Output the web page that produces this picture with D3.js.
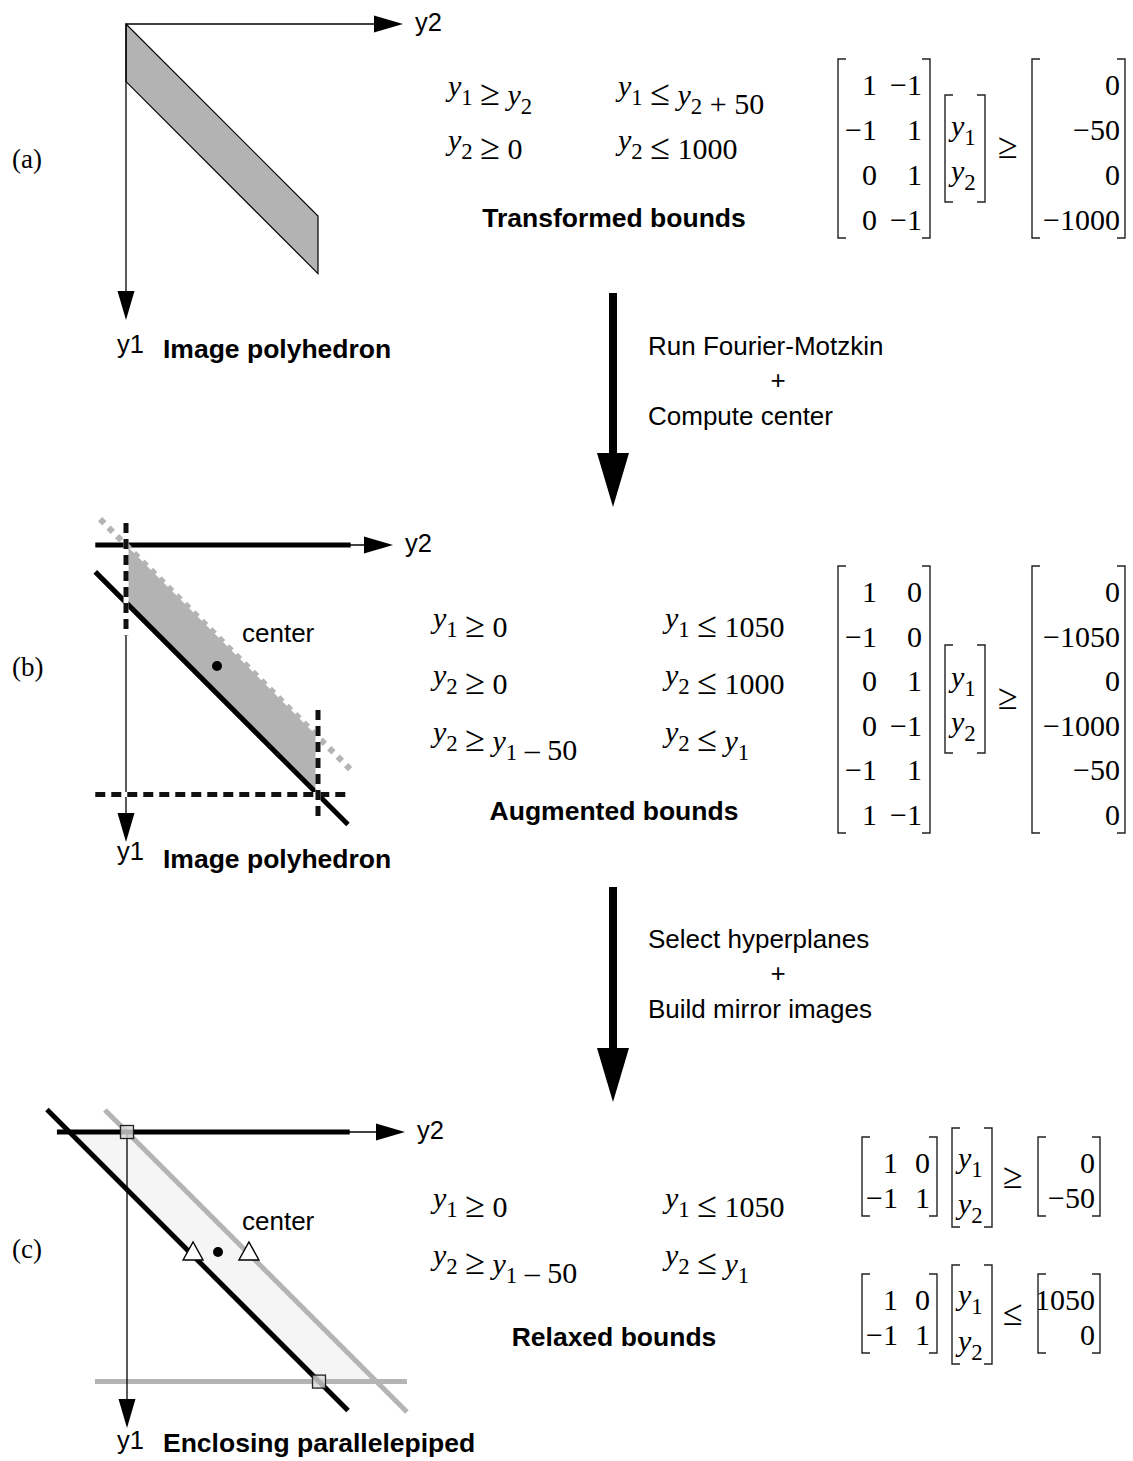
<!DOCTYPE html>
<html lang="en">
<head>
<meta charset="UTF-8">
<title>Image polyhedron relaxation</title>
<script src="https://d3js.org/d3.v7.min.js"></script>
<style>
  body { margin: 0; background: #fff; }
  text { white-space: pre; fill: #000; }
  .sans { font-family: "Liberation Sans", Arial, Helvetica, sans-serif; }
  .serif { font-family: "Liberation Serif", "Times New Roman", serif; }
</style>
</head>
<body>
<svg id="fig" width="1133" height="1461"></svg>
<script>

// ---------- data ----------
var panelLabels = ["(a)", "(b)", "(c)"];
var figureTitles = ["Image polyhedron", "Image polyhedron", "Enclosing parallelepiped"];
var captions = ["Transformed bounds", "Augmented bounds", "Relaxed bounds"];
var stepTexts = [
  ["Run Fourier-Motzkin", "+", "Compute center"],
  ["Select hyperplanes", "+", "Build mirror images"]
];

var boundsA = [["y_1 ≥ y_2", "y_1 ≤ y_2 + 50"],
               ["y_2 ≥ 0",   "y_2 ≤ 1000"]];
var boundsB = [["y_1 ≥ 0",        "y_1 ≤ 1050"],
               ["y_2 ≥ 0",        "y_2 ≤ 1000"],
               ["y_2 ≥ y_1 – 50", "y_2 ≤ y_1"]];
var boundsC = [["y_1 ≥ 0",        "y_1 ≤ 1050"],
               ["y_2 ≥ y_1 – 50", "y_2 ≤ y_1"]];

var matA = [[1, -1], [-1, 1], [0, 1], [0, -1]];
var rhsA = [0, -50, 0, -1000];
var matB = [[1, 0], [-1, 0], [0, 1], [0, -1], [-1, 1], [1, -1]];
var rhsB = [0, -1050, 0, -1000, -50, 0];
var matC = [[1, 0], [-1, 1]];
var rhsCLow = [0, -50];
var rhsCHigh = [1050, 0];

// schematic geometry as [y2, y1]; 1 unit = 1000, the 50-wide band is drawn exaggerated (0.3)
var polyA = [[0, 0], [0, 0.3], [1, 1.3], [1, 1]];
var polyB = [[0, 0], [0, 0.3], [1, 1.3], [1, 1]];
var polyC = [[-0.3, 0], [0, 0], [1.3, 1.3], [1, 1.3]];

var augmentedLines = [
  {kind: "thick", pts: [[-0.16, 0], [1.17, 0]]},          // y1 >= 0
  {kind: "dots",  pts: [[-0.135, -0.135], [1.167, 1.167]]}, // y2 <= y1
  {kind: "thick", pts: [[-0.16, 0.14], [1.156, 1.456]]},  // y2 >= y1 - 50
  {kind: "hatch", pts: [[-0.16, 1.3], [1.155, 1.3]]},     // y1 <= 1050
  {kind: "hatch", pts: [[0, -0.115], [0, 0.47]]},         // y2 >= 0
  {kind: "hatch", pts: [[1, 0.86], [1, 1.44]]}            // y2 <= 1000
];
var relaxedLines = [
  {kind: "gray",  pts: [[-0.167, 1.3], [1.458, 1.3]]},     // y1 <= 1050
  {kind: "gray",  pts: [[-0.115, -0.115], [1.458, 1.458]]}, // y2 <= y1
  {kind: "thick", pts: [[-0.417, -0.117], [1.151, 1.451]]}, // y2 >= y1 - 50
  {kind: "thick", pts: [[-0.365, 0], [1.16, 0]]}          // y1 >= 0
];
var centerB = [0.474, 0.63];
var centerC = [0.474, 0.625];
var mirrorC = [[0.344, 0.625], [0.635, 0.625]];
var cornersC = [[0, 0], [1, 1.3]];

// ---------- drawing ----------
var svg = d3.select("#fig");
var UNIT = 192;
var MATH = 30, SANS = 26;

function fmt(v) { return v < 0 ? "−" + Math.abs(v) : String(v); }

function scalesFor(o) {
  return {
    x: d3.scaleLinear().domain([0, 1]).range([o[0], o[0] + UNIT]),
    y: d3.scaleLinear().domain([0, 1]).range([o[1], o[1] + UNIT])
  };
}

// math text: "y_1" -> italic y with subscript 1, relations a bit larger
function mathText(g, str, x, y, size, anchor) {
  var t = g.append("text").attr("class", "serif")
    .attr("x", x).attr("y", y)
    .attr("font-size", size)
    .attr("text-anchor", anchor || "start");
  var parts = str.split(/(y_\d|[≥≤])/);
  parts.forEach(function(p) {
    if (!p) return;
    var m = p.match(/^y_(\d)$/);
    if (m) {
      t.append("tspan").attr("font-style", "italic").text("y");
      t.append("tspan").attr("font-size", size * 0.76).attr("dy", size * 0.3).text(m[1]);
      t.append("tspan").attr("dy", -size * 0.3).text("");
    } else if (p === "≥" || p === "≤") {
      t.append("tspan").attr("font-size", size * 1.2).text(p);
    } else {
      t.append("tspan").text(p);
    }
  });
  return t;
}

function axes(g, o, y2tip, y1tip) {
  var ah = 29, hw = 8.5;
  g.append("line").attr("x1", o[0]).attr("y1", o[1]).attr("x2", y2tip - ah).attr("y2", o[1])
    .attr("stroke", "#000").attr("stroke-width", 1.3);
  g.append("path").attr("d", "M" + (y2tip - ah) + "," + (o[1] - hw) + "L" + y2tip + "," + o[1] + "L" + (y2tip - ah) + "," + (o[1] + hw) + "Z")
    .attr("fill", "#000");
  g.append("line").attr("x1", o[0]).attr("y1", o[1]).attr("x2", o[0]).attr("y2", y1tip - ah)
    .attr("stroke", "#000").attr("stroke-width", 1.3);
  g.append("path").attr("d", "M" + (o[0] - hw) + "," + (y1tip - ah) + "L" + o[0] + "," + y1tip + "L" + (o[0] + hw) + "," + (y1tip - ah) + "Z")
    .attr("fill", "#000");
  g.append("text").attr("class", "sans").attr("font-size", 25.5)
    .attr("x", y2tip + 12).attr("y", o[1] + 7).text("y2");
}

function figureLabels(g, i, y1base, titleBase) {
  g.append("text").attr("class", "sans").attr("font-size", 25.5)
    .attr("x", 117).attr("y", y1base).text("y1");
  g.append("text").attr("class", "sans").attr("font-size", 26.5).attr("font-weight", "bold")
    .attr("x", 163).attr("y", titleBase).text(figureTitles[i]);
}

function bracket(g, x, top, bottom, dir) {
  g.append("path")
    .attr("d", "M" + (x + dir * 8) + "," + top + "H" + x + "V" + bottom + "H" + (x + dir * 8))
    .attr("fill", "none").attr("stroke", "#222").attr("stroke-width", 1.4);
}

// A * y (rel) b
function system(g, mat, rhs, rel, L) {
  var fs = MATH;
  var last = L.base0 + (mat.length - 1) * L.gap;
  bracket(g, L.aL, L.base0 - 36, last + 8, 1);
  bracket(g, L.aR, L.base0 - 36, last + 8, -1);
  mat.forEach(function(row, r) {
    row.forEach(function(v, c) {
      g.append("text").attr("class", "serif").attr("font-size", fs)
        .attr("text-anchor", "end")
        .attr("x", L.cols[c]).attr("y", L.base0 + r * L.gap).text(fmt(v));
    });
  });
  bracket(g, L.vL, L.vTop, L.vBot, 1);
  bracket(g, L.vL + 40, L.vTop, L.vBot, -1);
  mathText(g, "y_1", L.vL + 6, L.vBase[0], fs);
  mathText(g, "y_2", L.vL + 6, L.vBase[1], fs);
  g.append("text").attr("class", "serif").attr("font-size", fs * 1.2)
    .attr("x", L.relX).attr("y", L.relBase).text(rel);
  bracket(g, L.bL, L.base0 - 36, last + 8, 1);
  bracket(g, L.bR, L.base0 - 36, last + 8, -1);
  rhs.forEach(function(v, r) {
    g.append("text").attr("class", "serif").attr("font-size", fs)
      .attr("text-anchor", "end")
      .attr("x", L.bR - 5).attr("y", L.base0 + r * L.gap).text(fmt(v));
  });
}

function boundsText(g, rows, x0, x1, base0, gap) {
  rows.forEach(function(row, r) {
    mathText(g, row[0], x0, base0 + r * gap, MATH);
    mathText(g, row[1], x1, base0 + r * gap, MATH);
  });
}

function caption(g, i, y) {
  g.append("text").attr("class", "sans").attr("font-size", 26.5).attr("font-weight", "bold")
    .attr("text-anchor", "middle").attr("x", 614).attr("y", y).text(captions[i]);
}

function panelLabel(g, i, y) {
  g.append("text").attr("class", "serif").attr("font-size", 27)
    .attr("x", 12).attr("y", y).text(panelLabels[i]);
}

function drawLines(g, s, lines) {
  var line = d3.line().x(function(d) { return s.x(d[0]); }).y(function(d) { return s.y(d[1]); });
  lines.forEach(function(l) {
    if (l.kind === "thick") {
      g.append("path").attr("d", line(l.pts)).attr("stroke", "#000").attr("stroke-width", 5);
    } else if (l.kind === "gray") {
      g.append("path").attr("d", line(l.pts)).attr("stroke", "#b4b4b4").attr("stroke-width", 5);
    } else if (l.kind === "dots") {
      g.append("path").attr("d", line(l.pts)).attr("stroke", "#b4b4b4").attr("stroke-width", 6)
        .attr("stroke-dasharray", "6 6");
    } else if (l.kind === "hatch") {
      g.append("path").attr("d", line(l.pts)).attr("stroke", "#fff").attr("stroke-width", 5);
      g.append("path").attr("d", line(l.pts)).attr("stroke", "#111").attr("stroke-width", 5)
        .attr("stroke-dasharray", "10 6");
    }
  });
}

function stepArrow(g, i, top, headBase, tip, textBase) {
  var cx = 613, hw = 16;
  g.append("rect").attr("x", cx - 4).attr("y", top).attr("width", 8).attr("height", headBase - top + 1).attr("fill", "#000");
  g.append("path").attr("d", "M" + (cx - hw) + "," + headBase + "L" + cx + "," + tip + "L" + (cx + hw) + "," + headBase + "Z").attr("fill", "#000");
  var t = stepTexts[i];
  g.append("text").attr("class", "sans").attr("font-size", SANS).attr("x", 648).attr("y", textBase).text(t[0]);
  g.append("text").attr("class", "sans").attr("font-size", SANS).attr("text-anchor", "middle").attr("x", 778).attr("y", textBase + 34).text(t[1]);
  g.append("text").attr("class", "sans").attr("font-size", SANS).attr("x", 648).attr("y", textBase + 70).text(t[2]);
}

var polyLine = function(s) {
  return d3.line().x(function(d) { return s.x(d[0]); }).y(function(d) { return s.y(d[1]); }).curve(d3.curveLinearClosed);
};

// ---- panel (a) ----
var ga = svg.append("g");
var oa = [126, 24], sa = scalesFor(oa);
ga.append("path").attr("d", polyLine(sa)(polyA)).attr("fill", "#b3b3b3").attr("stroke", "#000").attr("stroke-width", 1.2);
axes(ga, oa, 403, 320);
figureLabels(ga, 0, 353, 358);
panelLabel(ga, 0, 168);
boundsText(ga, boundsA, 448, 618, 96, 54);
caption(ga, 0, 227);
system(ga, matA, rhsA, "≥", {
  aL: 838, aR: 930, cols: [877, 922], base0: 95, gap: 45,
  vL: 945, vTop: 95, vBot: 202, vBase: [136, 181],
  relX: 998, relBase: 158, bL: 1032, bR: 1125
});

stepArrow(svg.append("g"), 0, 293, 453, 507, 355);

// ---- panel (b) ----
var gb = svg.append("g");
var ob = [126, 545], sb = scalesFor(ob);
gb.append("path").attr("d", polyLine(sb)(polyB)).attr("fill", "#b3b3b3");
axes(gb, ob, 393, 842);
drawLines(gb, sb, augmentedLines);
gb.append("circle").attr("cx", sb.x(centerB[0])).attr("cy", sb.y(centerB[1])).attr("r", 5).attr("fill", "#000");
gb.append("text").attr("class", "sans").attr("font-size", SANS).attr("x", 242).attr("y", 642).text("center");
figureLabels(gb, 1, 860, 868);
panelLabel(gb, 1, 676);
boundsText(gb, boundsB, 433, 665, 628, 57);
caption(gb, 1, 820);
system(gb, matB, rhsB, "≥", {
  aL: 838, aR: 930, cols: [877, 922], base0: 602, gap: 44.6,
  vL: 945, vTop: 645, vBot: 753, vBase: [687, 732],
  relX: 998, relBase: 709, bL: 1032, bR: 1125
});

stepArrow(svg.append("g"), 1, 887, 1048, 1102, 948);

// ---- panel (c) ----
var gc = svg.append("g");
var oc = [127, 1132], sc = scalesFor(oc);
gc.append("path").attr("d", polyLine(sc)(polyC)).attr("fill", "#f5f5f5");
drawLines(gc, sc, relaxedLines.slice(0, 2));
axes(gc, oc, 405, 1428);
drawLines(gc, sc, relaxedLines.slice(2));
gc.selectAll("rect.corner").data(cornersC).enter().append("rect")
  .attr("x", function(d) { return sc.x(d[0]) - 6.5; })
  .attr("y", function(d) { return sc.y(d[1]) - 6.5; })
  .attr("width", 13).attr("height", 13)
  .attr("fill", "#d8d8d8").attr("fill-opacity", 0.8).attr("stroke", "#222").attr("stroke-width", 1.3);
gc.selectAll("path.mirror").data(mirrorC).enter().append("path")
  .attr("d", function(d) {
    var x = sc.x(d[0]), y = sc.y(d[1]);
    return "M" + (x - 10) + "," + (y + 8) + "L" + x + "," + (y - 10) + "L" + (x + 10) + "," + (y + 8) + "Z";
  })
  .attr("fill", "#fff").attr("stroke", "#000").attr("stroke-width", 1.4);
gc.append("circle").attr("cx", sc.x(centerC[0])).attr("cy", sc.y(centerC[1])).attr("r", 5).attr("fill", "#000");
gc.append("text").attr("class", "sans").attr("font-size", SANS).attr("x", 242).attr("y", 1230).text("center");
figureLabels(gc, 2, 1449, 1452);
panelLabel(gc, 2, 1258);
boundsText(gc, boundsC, 433, 665, 1208, 57);
caption(gc, 2, 1346);
system(gc, matC, rhsCLow, "≥", {
  aL: 862, aR: 937, cols: [898, 930], base0: 1173, gap: 35,
  vL: 952, vTop: 1128, vBot: 1227, vBase: [1168, 1214],
  relX: 1003, relBase: 1188, bL: 1038, bR: 1100
});
system(gc, matC, rhsCHigh, "≤", {
  aL: 862, aR: 937, cols: [898, 930], base0: 1310, gap: 35,
  vL: 952, vTop: 1265, vBot: 1364, vBase: [1305, 1351],
  relX: 1003, relBase: 1325, bL: 1038, bR: 1100
});

</script>
</body>
</html>
